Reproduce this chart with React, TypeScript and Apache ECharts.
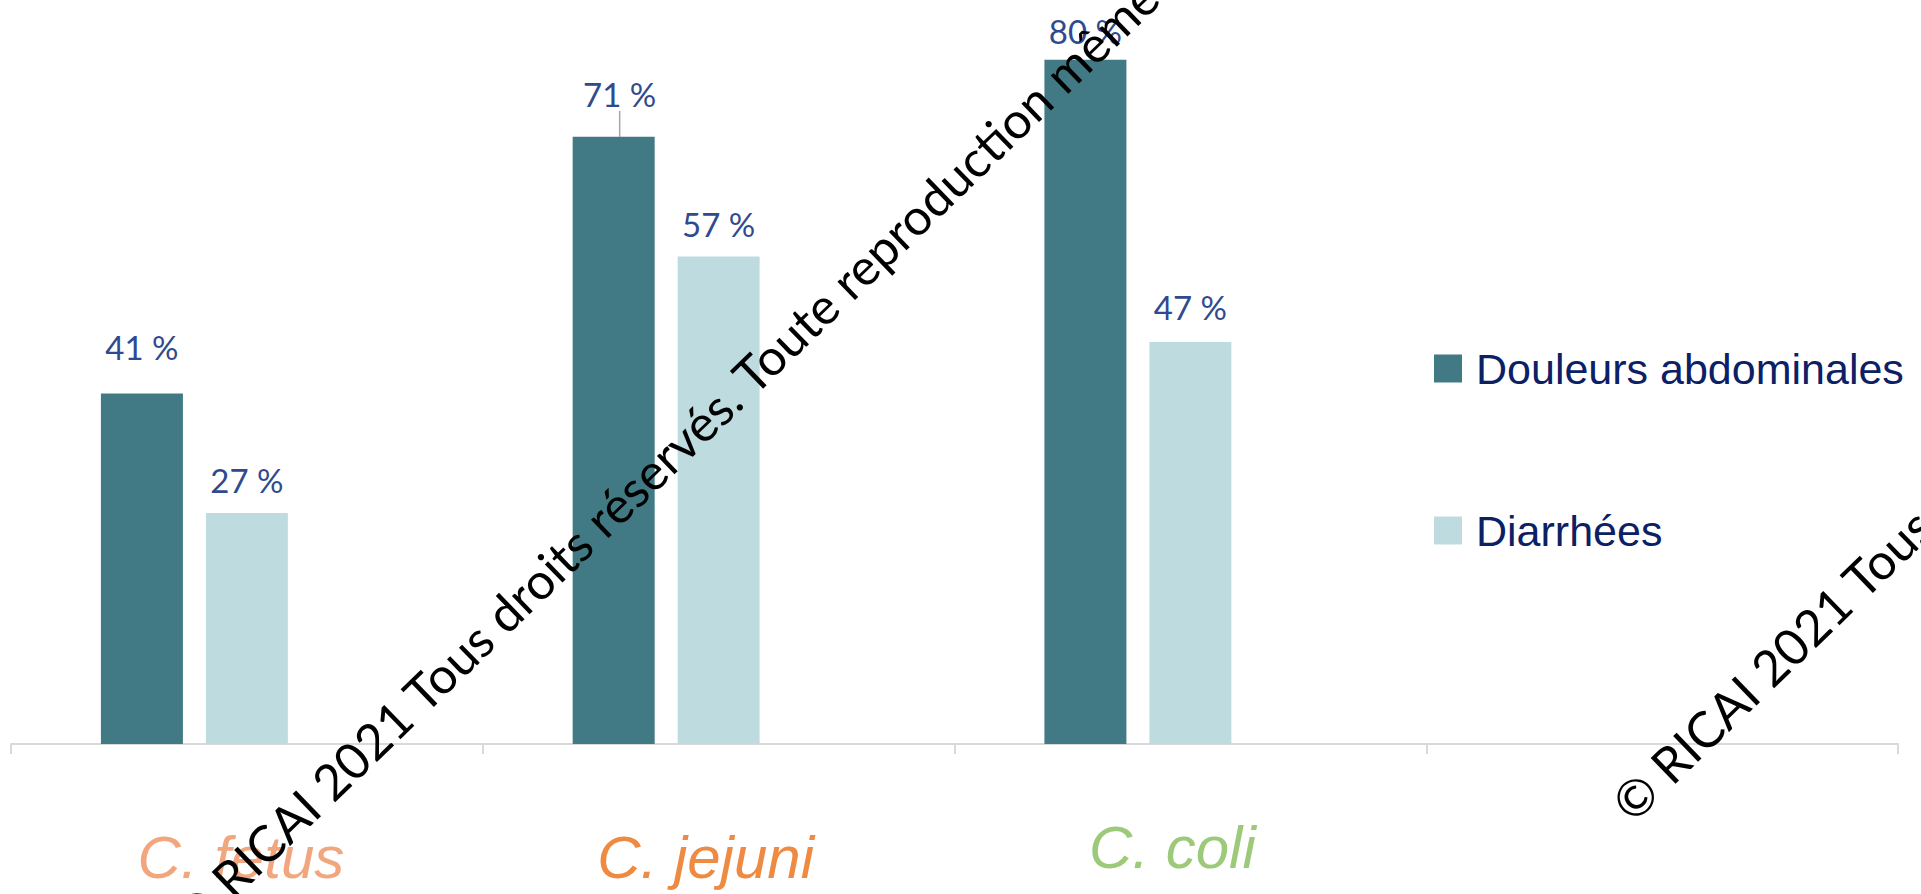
import React, { useEffect, useRef } from 'react';
import * as echarts from 'echarts';

const categories = ['C. fetus', 'C. jejuni', 'C. coli', ''];
const seriesNames = ['Douleurs abdominales', 'Diarrhées'];
const douleurs = [41, 71, 80, null];
const diarrhees = [27, 57, 47, null];
const yMax = 87;
const watermarkText = '© RICAI 2021 Tous droits réservés. Toute reproduction même partielle interdite.';

const DARK = '#417A84';
const LIGHT = '#BEDCE0';
const LABEL = '#2F4A8E';
const SANS = "'Liberation Sans', Arial, sans-serif";
const catColors = ['#F2A67E', '#EF8A43', '#9DC97B'];

const labelDistance = [[30, 22, 12], [17, 16, 19]];
const leaderLineIndex = 1;

function buildData(values: (number | null)[], s: number) {
  return values.map((v, i) =>
    v == null
      ? null
      : {
          value: v,
          label: { distance: labelDistance[s][i] ?? 17 },
          labelLine: { show: s === 0 && i === leaderLineIndex },
        }
  );
}

export default function App() {
  const ref = useRef<HTMLDivElement>(null);
  useEffect(() => {
    const chart = echarts.init(ref.current!, null, { renderer: 'svg' });
    const labelCfg = {
      show: true,
      position: 'top',
      formatter: (p: any) => `${p.value} %`,
      color: LABEL,
      fontFamily: 'Lato',
      fontSize: 33,
      lineHeight: 33,
    };
    const rich: any = {
      c0: { fontFamily: SANS, fontStyle: 'italic', fontSize: 60, lineHeight: 60, color: catColors[0], padding: [0, 12, 0, 0] },
      c1: { fontFamily: SANS, fontStyle: 'italic', fontSize: 60, lineHeight: 60, color: catColors[1], padding: [0, 26, 0, 0] },
      c2: { fontFamily: SANS, fontStyle: 'italic', fontSize: 60, lineHeight: 40, color: catColors[2], padding: [0, 36, 0, 0] },
      c3: { fontSize: 60, lineHeight: 60 },
    };
    const wmStyle = {
      text: watermarkText,
      fill: '#000000',
      font: '50px Lato',
      align: 'left',
      verticalAlign: 'middle',
      textAlign: 'left',
      textVerticalAlign: 'middle',
    };
    const option: any = {
      animation: false,
      backgroundColor: '#ffffff',
      grid: { left: 11, right: 23, top: 0, bottom: 150, containLabel: false },
      legend: {
        orient: 'vertical',
        left: 1434,
        top: 347,
        padding: 0,
        itemWidth: 28,
        itemHeight: 28,
        itemGap: 119,
        icon: 'rect',
        data: seriesNames,
        textStyle: { fontFamily: SANS, fontSize: 43, color: '#0C2066', padding: [0, 0, 0, 9] },
      },
      xAxis: {
        type: 'category',
        data: categories,
        axisLine: { show: true, lineStyle: { color: '#D9D9D9', width: 2 } },
        axisTick: { show: true, length: 10, lineStyle: { color: '#D9D9D9', width: 2 } },
        axisLabel: {
          margin: 83,
          interval: 0,
          formatter: (v: string, i: number) => (v ? `{c${i}|${v}}` : ''),
          rich,
        },
        splitLine: { show: false },
      },
      yAxis: { type: 'value', min: 0, max: yMax, show: false, splitLine: { show: false } },
      series: [
        {
          name: seriesNames[0],
          type: 'bar',
          barWidth: 82,
          barGap: '28%',
          itemStyle: { color: DARK },
          label: labelCfg,
          labelLayout: (p: any) => (p.dataIndex === leaderLineIndex ? { dx: 6, dy: -4 } : {}),
          labelLine: { show: false, lineStyle: { color: '#A6A6A6', width: 1.5 } },
          data: buildData(douleurs, 0),
        },
        {
          name: seriesNames[1],
          type: 'bar',
          barWidth: 82,
          barGap: '28%',
          itemStyle: { color: LIGHT },
          label: labelCfg,
          data: buildData(diarrhees, 1),
        },
        {
          name: '',
          type: 'bar',
          barWidth: 82,
          barGap: '28%',
          data: [null, null, null, null],
        },
      ],
      graphic: [
        {
          type: 'text',
          x: 181,
          y: 925,
          rotation: (44 * Math.PI) / 180,
          silent: true,
          z: 100,
          style: wmStyle,
        },
        {
          type: 'text',
          x: 1620,
          y: 811,
          rotation: (44 * Math.PI) / 180,
          silent: true,
          z: 100,
          style: wmStyle,
        },
      ],
    };
    chart.setOption(option);
    return () => chart.dispose();
  }, []);
  return <div ref={ref} style={{ position: 'fixed', left: 0, top: 0, width: 1921, height: 894 }} />;
}
